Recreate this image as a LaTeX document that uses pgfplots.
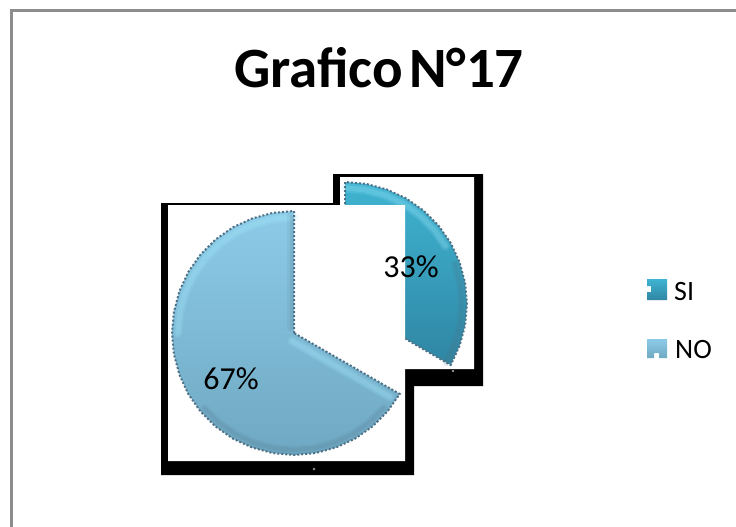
\documentclass[border=0pt]{standalone}
\usepackage{pgfplots}
\pgfplotsset{compat=1.18}
\usepackage{fontspec}
\setmainfont{Carlito}

% slices traced in picture pixels, every 10 degrees
\pgfplotstableread{
x y
294 333
294 211
272.8 212.9
252.3 218.4
233 227.3
215.6 239.5
200.5 254.6
188.3 272
179.4 291.3
173.9 311.8
172 333
173.9 354.2
179.4 374.7
188.3 394
200.5 411.4
215.6 426.5
233 438.7
252.3 447.6
272.8 453.1
294 455
315.2 453.1
335.7 447.6
355 438.7
372.4 426.5
387.5 411.4
399.7 394
294 333
}\nodata
\pgfplotstableread{
x y
345 304
345 182
366.2 183.9
386.7 189.4
406 198.3
423.4 210.5
438.5 225.6
450.7 243
459.6 262.3
465.1 282.8
467 304
465.1 325.2
459.6 345.7
450.7 365
345 304
}\sidata
% highlights and shadows just inside the slice edges
\pgfplotstableread{
x y
294 217
273.9 218.8
254.3 224
236 232.5
219.4 244.1
205.1 258.4
193.5 275
185 293.3
179.8 312.9
178 333
}\nolight
\pgfplotstableread{
x y
204.4 408.2
218.8 422.6
235.5 434.3
254 443
273.7 448.2
294 450
314.3 448.2
334 443
352.5 434.3
369.2 422.6
383.6 408.2
}\nodark
\pgfplotstableread{
x y
345 188
365.1 189.8
384.7 195
403 203.5
419.6 215.1
433.9 229.4
445.5 246
}\silight
\pgfplotstableread{
x y
455 264
460.2 283.7
462 304
460.2 324.3
454.9 344
446.3 362.5
}\sidark

\definecolor{frame}{HTML}{8C8C8C}
\definecolor{siTop}{HTML}{3FB4D2}
\definecolor{siBot}{HTML}{2F86A3}
\definecolor{noTop}{HTML}{8CCBE8}
\definecolor{noBot}{HTML}{6FA8C2}
\definecolor{edge}{HTML}{4F7186}
\definecolor{glow}{HTML}{A8EEFF}

\pgfplotsset{
  soft/.style={no marks,line cap=round,line join=round},
}

\begin{document}
\begin{tikzpicture}
\begin{axis}[
  scale only axis,width=736pt,height=527pt,
  xmin=0,xmax=736,ymin=0,ymax=527,y dir=reverse,
  hide axis,clip=true]
% white page, keeps the full size
\addplot[fill=white,draw=none] coordinates {(0,0) (736,0) (736,527) (0,527) (0,0)};
% outer chart border
\addplot[frame,line width=3pt,no marks] coordinates {(11.5,527) (11.5,10.5) (736,10.5)};
% black picture frames
\addplot[fill=black,draw=none] coordinates {(161,203) (414,203) (414,475) (161,475) (161,203)};
\addplot[fill=black,draw=none] coordinates {(333,174) (483,174) (483,386) (333,386) (333,174)};
% back picture with SI slice
\addplot[fill=white,draw=none] coordinates {(340,177) (474,177) (474,369) (340,369) (340,177)};
\addplot[top color=siTop,bottom color=siBot,draw=none] table {\sidata};
\addplot[glow,line width=9pt,opacity=.14,soft] table {\silight};
\addplot[glow,line width=5pt,opacity=.2,soft] table {\silight};
\addplot[edge,line width=8pt,opacity=.1,soft] table {\sidark};
\addplot[edge,line width=4pt,opacity=.15,soft] table {\sidark};
\addplot[edge,line width=2pt,dash pattern=on 2pt off 2pt,no marks] table {\sidata};
% front picture with NO slice
\addplot[fill=white,draw=none] coordinates {(168,205) (405,205) (405,461) (168,461) (168,205)};
\addplot[top color=noTop,bottom color=noBot,draw=none] table {\nodata};
\addplot[glow,line width=9pt,opacity=.14,soft] table {\nolight};
\addplot[glow,line width=5pt,opacity=.2,soft] table {\nolight};
\addplot[glow,line width=9pt,opacity=.16,soft] coordinates {(292,341) (390,397)};
\addplot[glow,line width=5pt,opacity=.22,soft] coordinates {(292,341) (390,397)};
\addplot[edge,line width=7pt,opacity=.1,soft] coordinates {(290,216) (290,328)};
\addplot[edge,line width=3pt,opacity=.15,soft] coordinates {(291,216) (291,328)};
\addplot[edge,line width=8pt,opacity=.1,soft] table {\nodark};
\addplot[edge,line width=4pt,opacity=.12,soft] table {\nodark};
\addplot[edge,line width=2pt,dash pattern=on 2pt off 2pt,no marks] table {\nodata};
% small dots on the frames
\addplot[only marks,mark=*,mark size=1pt,draw=gray,fill=white] coordinates {(453,371) (314,469)};
% legend swatches
\addplot[top color=siTop,bottom color=siBot,draw=none] coordinates {(647,279) (667,279) (667,300) (647,300) (647,292) (651,292) (651,286) (647,286) (647,279)};
\addplot[top color=noTop,bottom color=noBot,draw=none] coordinates {(647,339) (667,339) (667,358) (659,358) (659,353) (654,353) (654,358) (647,358) (647,339)};
% text
\node[anchor=base,font=\fontsize{57}{57}\selectfont\bfseries] at (axis cs:379,88) {Grafico\hspace{-0.12em} N°17};
\node[anchor=base,font=\fontsize{32}{32}\selectfont] at (axis cs:411,277) {33\%};
\node[anchor=base,font=\fontsize{32}{32}\selectfont] at (axis cs:231,389) {67\%};
\node[anchor=base west,inner sep=0pt,font=\fontsize{28}{28}\selectfont] at (axis cs:674,300) {SI};
\node[anchor=base west,inner sep=0pt,font=\fontsize{28}{28}\selectfont] at (axis cs:675,358) {NO};
\end{axis}
\end{tikzpicture}
\end{document}
